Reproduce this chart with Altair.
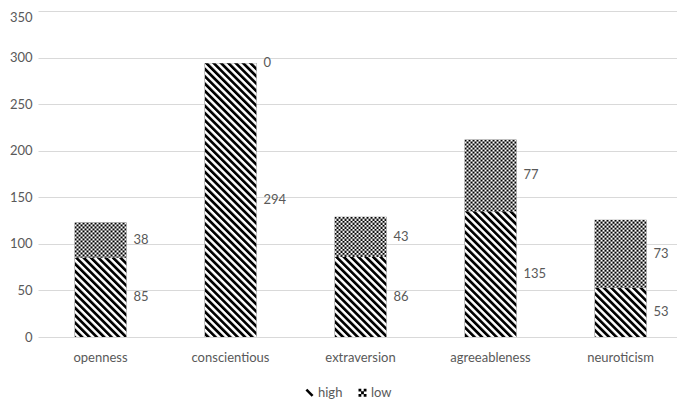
import base64
import altair as alt
import pandas as pd

categories = ["openness", "conscientious", "extraversion", "agreeableness", "neuroticism"]
high_values = [85, 294, 86, 135, 53]
low_values = [38, 0, 43, 77, 73]
series_names = ["high", "low"]
y_ticks = [0, 50, 100, 150, 200, 250, 300, 350]

rows = []
for c, h, l in zip(categories, high_values, low_values):
    rows.append({"category": c, "series": "high", "order": 0, "value": h})
    rows.append({"category": c, "series": "low", "order": 1, "value": l})
df = pd.DataFrame(rows)


def svg_uri(svg):
    return "data:image/svg+xml;base64," + base64.b64encode(svg.encode("utf-8")).decode("ascii")


HATCH = svg_uri(
    "<svg xmlns='http://www.w3.org/2000/svg' width='100%' height='100%'>"
    "<defs><pattern id='h' patternUnits='userSpaceOnUse' width='5.2' height='5.2' "
    "patternTransform='rotate(-45)'>"
    "<rect width='5.2' height='5.2' fill='white'/>"
    "<rect width='2.7' height='5.2' fill='black'/></pattern></defs>"
    "<rect width='100%' height='100%' fill='url(#h)'/></svg>"
)
CHECK = svg_uri(
    "<svg xmlns='http://www.w3.org/2000/svg' width='100%' height='100%'>"
    "<defs><pattern id='c' patternUnits='userSpaceOnUse' width='4' height='4'>"
    "<rect width='4' height='4' fill='white'/>"
    "<rect width='2' height='2' fill='black'/>"
    "<rect x='2' y='2' width='2' height='2' fill='black'/></pattern></defs>"
    "<rect width='100%' height='100%' fill='url(#c)'/></svg>"
)

HIGH_PATH = "M-1,-0.55L-0.55,-1L1,0.55L0.55,1Z"
LOW_PATH = ("M-1,-1h0.7v0.7h-0.7Z M0.3,-1h0.7v0.7h-0.7Z M-0.35,-0.35h0.7v0.7h-0.7Z "
            "M-1,0.3h0.7v0.7h-0.7Z M0.3,0.3h0.7v0.7h-0.7Z")

TEXT = "#595959"
FONT = "Lato"

x_enc = alt.X(
    "category:N",
    sort=categories,
    scale=alt.Scale(paddingInner=0.6, paddingOuter=0.2577, align=0.545),
    axis=alt.Axis(title=None, labelAngle=0, domain=False, ticks=False, labelPadding=14,
                  labelFontSize=13, labelColor=TEXT, labelFont=FONT),
)
y_scale = alt.Scale(domain=[0, 350], nice=False)

base = (
    alt.Chart(df)
    .transform_stack(stack="value", groupby=["category"], as_=["y0", "y1"],
                     sort=[alt.SortField("order", "ascending")])
    .transform_calculate(mid="(datum.y0 + datum.y1) / 2")
)

bars = base.mark_bar(color="#808080").encode(
    x=x_enc,
    y=alt.Y("y1:Q", scale=y_scale,
            axis=alt.Axis(title=None, values=y_ticks, grid=True, gridColor="#d9d9d9",
                          domain=False, ticks=False, labelPadding=6, labelFontSize=13,
                          labelColor=TEXT, labelFont=FONT,
                          labelBaseline={"condition": {"test": "datum.value >= 350",
                                                       "value": "top"},
                                         "value": "middle"})),
    y2="y0:Q",
)

img_high = base.transform_filter(alt.datum.series == "high").mark_image(
    url=HATCH, aspect=False
).encode(x=x_enc, y=alt.Y("y1:Q", scale=y_scale), y2="y0:Q")

img_low = base.transform_filter(alt.datum.series == "low").mark_image(
    url=CHECK, aspect=False
).encode(x=x_enc, y=alt.Y("y1:Q", scale=y_scale), y2="y0:Q")

labels = base.mark_text(align="left", baseline="middle", dx=33, fontSize=13,
                        color=TEXT, font=FONT).encode(
    x=x_enc, y=alt.Y("mid:Q", scale=y_scale), text="value:Q"
)

legend_pts = base.mark_point(opacity=0, filled=True, color="black").encode(
    x=x_enc,
    y=alt.Y("y1:Q", scale=y_scale),
    shape=alt.Shape(
        "series:N",
        scale=alt.Scale(domain=series_names, range=[HIGH_PATH, LOW_PATH]),
        legend=alt.Legend(title=None, orient="none", legendX=265, legendY=375,
                          direction="horizontal", symbolOpacity=1,
                          symbolFillColor="black", symbolStrokeColor="black",
                          symbolStrokeWidth=0, symbolSize=64, labelFontSize=13,
                          labelColor=TEXT, labelFont=FONT, columnPadding=13,
                          labelOffset=2),
    ),
)

chart = (
    alt.layer(bars, img_high, img_low, labels, legend_pts)
    .properties(width=639, height=326, autosize=alt.AutoSizeParams(type="none"),
                padding={"left": 30, "top": 3, "right": 0, "bottom": 63})
    .configure_view(stroke=None)
)

chart.save("out.html", embed_options={"renderer": "svg", "actions": False})
